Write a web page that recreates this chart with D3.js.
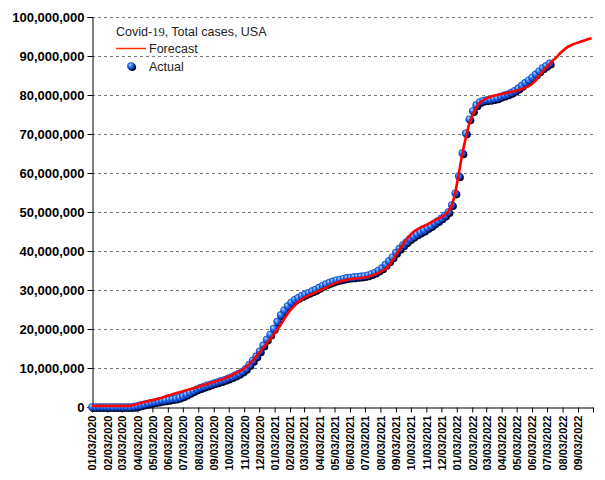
<!DOCTYPE html>
<html>
<head>
<meta charset="utf-8">
<script src="https://cdn.jsdelivr.net/npm/d3@7"></script>
<style>
html,body{margin:0;padding:0;background:#fff;}
svg{display:block;}
</style>
</head>
<body>
<svg id="chart" width="605" height="480"></svg>
<script>
// ---------------- DATA ----------------
const title = "Covid-19, Total cases, USA";
const seriesNames = ["Forecast", "Actual"];
const firstWeek = "01/03/2020";   // weekly series start (mm/dd/yyyy)
const axisEnd = "10/03/2022";
const xTickLabels = [
  "01/03/2020","02/03/2020","03/03/2020","04/03/2020","05/03/2020","06/03/2020",
  "07/03/2020","08/03/2020","09/03/2020","10/03/2020","11/03/2020","12/03/2020",
  "01/03/2021","02/03/2021","03/03/2021","04/03/2021","05/03/2021","06/03/2021",
  "07/03/2021","08/03/2021","09/03/2021","10/03/2021","11/03/2021","12/03/2021",
  "01/03/2022","02/03/2022","03/03/2022","04/03/2022","05/03/2022","06/03/2022",
  "07/03/2022","08/03/2022","09/03/2022"
];
const yTicks = [0,10e6,20e6,30e6,40e6,50e6,60e6,70e6,80e6,90e6,100e6];

// Actual total cases, weekly, in millions
const actualM = [
  0,0,0,0,0,0,0,0,0,0,0,0,0.1,
  0.25,0.48,0.7,0.9,1.08,1.28,1.45,1.6,1.75,1.9,2.05,2.2,2.45,
  2.8,3.2,3.65,4.1,4.55,4.9,5.25,5.55,5.85,6.15,6.4,6.7,7.0,
  7.35,7.7,8.1,8.55,9.1,9.8,10.8,11.9,13.0,14.3,15.8,17.3,18.6,
  20.1,21.9,23.6,24.8,25.9,26.8,27.5,28.0,28.5,28.9,29.3,29.7,30.1,
  30.6,31.1,31.5,31.9,32.2,32.5,32.7,32.9,33.1,33.2,33.3,33.4,33.5,
  33.6,33.8,34.1,34.5,35.0,35.6,36.5,37.4,38.4,39.6,40.6,41.5,42.3,
  43.1,43.7,44.3,44.8,45.3,45.9,46.4,47.1,47.7,48.4,49.1,50.0,51.8,
  54.8,59.2,65.1,70.2,73.8,75.9,77.4,78.2,78.6,78.7,78.8,79.0,79.2,
  79.6,79.9,80.2,80.6,81.1,81.7,82.4,83.1,83.8,84.5,85.3,86.1,86.9,
  87.5,88.1
];

// Forecast total cases, weekly, in millions
const forecastM = [
  0.3,0.3,0.3,0.3,0.3,0.3,0.3,0.3,0.3,0.3,0.3,0.35,0.5,
  0.8,1.05,1.3,1.5,1.7,1.85,2.1,2.4,2.7,3.0,3.25,3.5,3.75,
  4.0,4.3,4.55,4.8,5.05,5.35,5.65,5.9,6.2,6.5,6.75,7.0,7.35,
  7.75,8.15,8.6,9.05,9.55,10.2,11.0,11.9,13.0,14.1,15.2,16.3,17.4,
  18.6,19.8,21.1,22.5,23.9,25.1,26.0,26.9,27.6,28.2,28.6,29.0,29.4,
  29.8,30.2,30.6,31.1,31.5,31.9,32.2,32.4,32.6,32.8,32.9,33.0,33.1,
  33.2,33.4,33.7,34.0,34.4,34.9,35.4,36.3,37.6,39.0,40.4,41.7,42.9,
  44.0,44.9,45.5,46.0,46.4,46.8,47.3,47.8,48.3,48.7,49.3,50.2,51.8,
  55.0,59.8,64.8,69.0,72.6,74.9,76.8,78.0,78.7,79.2,79.5,79.8,80.0,
  80.2,80.4,80.6,80.8,81.0,81.2,81.5,81.9,82.3,82.8,83.8,84.9,86.0,
  87.0,87.9,88.9,89.7,90.7,91.5,92.2,92.7,93.1,93.4,93.7,94.0,94.3,
  94.6
];

// ---------------- CHART ----------------
const parse = d3.timeParse("%m/%d/%Y");
const start = parse(firstWeek);
const weekDate = i => d3.timeDay.offset(start, 7 * i);
const actual = actualM.map((v, i) => ({date: weekDate(i), value: v * 1e6}));
const forecast = forecastM.map((v, i) => ({date: weekDate(i), value: v * 1e6}));

const svg = d3.select("#chart");
const margin = {left: 92, right: 12, top: 17, bottom: 73};
const W = 605, H = 480;

const x = d3.scaleTime()
  .domain([parse(xTickLabels[0]), parse(axisEnd)])
  .range([margin.left, W - margin.right]);
const y = d3.scaleLinear()
  .domain([0, 100e6])
  .range([H - margin.bottom, margin.top]);

const fontFam = "'Liberation Sans', Arial, sans-serif";

// gridlines
svg.append("g").selectAll("line")
  .data(yTicks.filter(d => d > 0))
  .join("line")
  .attr("x1", margin.left).attr("x2", W - margin.right)
  .attr("y1", d => Math.round(y(d)) + 0.5).attr("y2", d => Math.round(y(d)) + 0.5)
  .attr("stroke", "#777").attr("stroke-width", 1)
  .attr("stroke-dasharray", "3,3");

// y axis
const yAxis = svg.append("g")
  .attr("transform", `translate(${margin.left + 0.5},0)`)
  .call(d3.axisLeft(y).tickValues(yTicks).tickFormat(d3.format(",")).tickSize(5).tickPadding(3));
yAxis.select(".domain").attr("stroke", "#000");
yAxis.selectAll(".tick line").attr("stroke", "#000");
yAxis.selectAll("text")
  .attr("font-family", fontFam).attr("font-size", 13).attr("fill", "#000")
  .attr("font-weight", "bold");

// x axis
const xAxis = svg.append("g")
  .attr("transform", `translate(0,${y(0) + 0.5})`)
  .call(d3.axisBottom(x)
    .tickValues(xTickLabels.map(parse).concat([parse(axisEnd)]))
    .tickFormat((d, i) => i < xTickLabels.length ? xTickLabels[i] : "")
    .tickSize(5).tickSizeOuter(0));
xAxis.select(".domain").attr("stroke", "#000");
xAxis.selectAll(".tick line").attr("stroke", "#000");
xAxis.selectAll("text")
  .attr("font-family", fontFam).attr("font-size", 11).attr("fill", "#000")
  .attr("font-weight", "bold")
  .attr("transform", "rotate(-90)")
  .attr("text-anchor", "end")
  .attr("x", -8).attr("y", 0).attr("dy", "0.35em");

// sphere gradient
const defs = svg.append("defs");
const grad = defs.append("radialGradient").attr("id", "ball")
  .attr("cx", "0.5").attr("cy", "0.5").attr("r", "0.6")
  .attr("fx", "0.35").attr("fy", "0.3");
grad.append("stop").attr("offset", "0%").attr("stop-color", "#bfe6ff");
grad.append("stop").attr("offset", "35%").attr("stop-color", "#3d8cff");
grad.append("stop").attr("offset", "75%").attr("stop-color", "#0a3fc8");
grad.append("stop").attr("offset", "100%").attr("stop-color", "#001060");

// actual points: shadows then balls
const pts = svg.append("g");
pts.selectAll("circle.sh")
  .data(actual)
  .join("circle").attr("class", "sh")
  .attr("cx", d => x(d.date) + 1.3)
  .attr("cy", d => y(d.value) + 1.3)
  .attr("r", 3.8)
  .attr("fill", "#000828");
pts.selectAll("circle.ball")
  .data(actual)
  .join("circle").attr("class", "ball")
  .attr("cx", d => x(d.date))
  .attr("cy", d => y(d.value))
  .attr("r", 3.8)
  .attr("fill", "url(#ball)");

// forecast line
svg.append("path")
  .datum(forecast)
  .attr("fill", "none")
  .attr("stroke", "#ff0000")
  .attr("stroke-width", 2.6)
  .attr("stroke-linejoin", "round")
  .attr("d", d3.line().x(d => x(d.date)).y(d => y(d.value)).curve(d3.curveMonotoneX));

// legend
const lg = svg.append("g");
const t = lg.append("text").attr("x", 116).attr("y", 36)
  .attr("font-family", fontFam).attr("font-size", 12.5).attr("fill", "#222");
const parts = title.split("19");
t.append("tspan").text(parts[0]);
t.append("tspan").attr("font-family", "'Liberation Serif', 'DejaVu Serif', serif").text("19");
t.append("tspan").text(parts[1]);

lg.append("line").attr("x1", 116).attr("x2", 146).attr("y1", 48.5).attr("y2", 48.5)
  .attr("stroke", "#ff3300").attr("stroke-width", 1.5);
lg.append("text").attr("x", 149).attr("y", 53)
  .attr("font-family", fontFam).attr("font-size", 12.5).attr("fill", "#222")
  .text(seriesNames[0]);
lg.append("circle").attr("cx", 132.3).attr("cy", 67.3).attr("r", 3.8).attr("fill", "#000828");
lg.append("circle").attr("cx", 131).attr("cy", 66).attr("r", 3.8).attr("fill", "url(#ball)");
lg.append("text").attr("x", 149).attr("y", 71)
  .attr("font-family", fontFam).attr("font-size", 12.5).attr("fill", "#222")
  .text(seriesNames[1]);
</script>
</body>
</html>
